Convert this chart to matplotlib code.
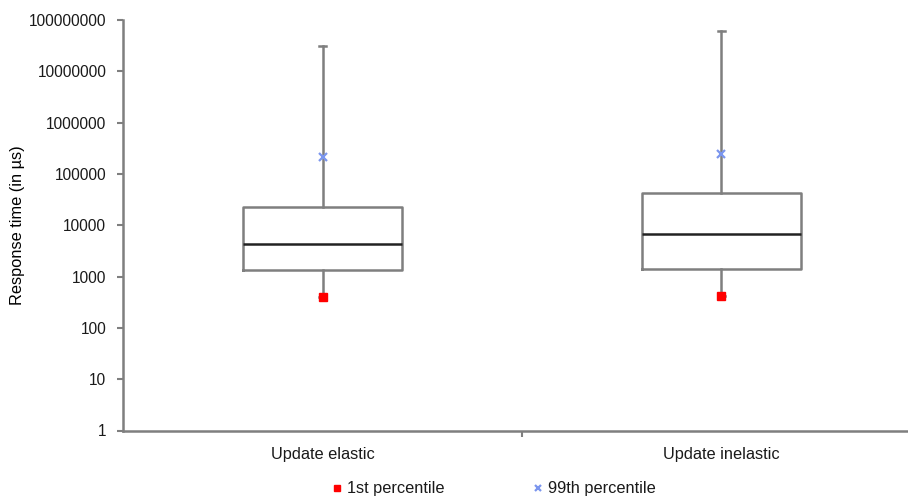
import numpy as np
import matplotlib.pyplot as plt
from matplotlib.ticker import FixedLocator, NullLocator

categories = ['Update elastic', 'Update inelastic']
p1 = [405, 415]
q1 = [1320, 1380]
median = [4320, 6800]
q3 = [22800, 42500]
p99 = [217000, 245000]
maximum = [31000000, 61000000]

plt.rcParams['font.family'] = ['Liberation Sans', 'DejaVu Sans']
plt.rcParams['font.size'] = 11.8
plt.rcParams['text.color'] = '#1a1a1a'

fig = plt.figure(figsize=(9.08, 4.96), dpi=100)
ax = fig.add_axes([123 / 908, 65.5 / 496, 798 / 908, 410.5 / 496])

pos = np.arange(len(categories)) + 0.5
stats = []
for i, c in enumerate(categories):
    stats.append(dict(label=c, whislo=p1[i], q1=q1[i], med=median[i],
                      q3=q3[i], whishi=maximum[i], fliers=[]))

grey = '#7f7f7f'
ax.bxp(stats, positions=pos, widths=0.4, capwidths=0.02, showfliers=False,
       boxprops=dict(color=grey, linewidth=1.8),
       whiskerprops=dict(color=grey, linewidth=1.8),
       capprops=dict(color=grey, linewidth=1.8),
       medianprops=dict(color='#222222', linewidth=1.8))

ax.plot(pos, p1, ls='none', marker='s', ms=5.8, color='#ff0000', label='1st percentile', zorder=5)
ax.plot(pos, p99, ls='none', marker='x', ms=5.5, mew=1.6, color='#7b96ee', label='99th percentile', zorder=5)

ax.set_yscale('log')
ax.set_ylim(1, 1e8)
ax.yaxis.set_major_locator(FixedLocator([10 ** k for k in range(9)]))
ax.yaxis.set_minor_locator(NullLocator())
ax.set_yticklabels([str(10 ** k) for k in range(9)])
ax.set_xlim(0, 2)
ax.set_xticks([1])
ax.set_xticklabels([''])
ax.set_xticks(pos, minor=True)
ax.set_xticklabels(categories, minor=True)
ax.tick_params(axis='x', which='minor', length=0, pad=12)
ax.tick_params(axis='x', which='major', length=4, width=1.5, color=grey)
ax.tick_params(axis='y', length=4, width=1.5, color=grey, pad=8, labelcolor='#1a1a1a', labelsize=11.2)
ax.tick_params(axis='x', labelcolor='#1a1a1a', which='both')
ax.set_ylabel('Response time (in µs)')
ax.yaxis.set_label_coords(-98 / 798, 0.5)

for s in ['top', 'right']:
    ax.spines[s].set_visible(False)
for s in ['left', 'bottom']:
    ax.spines[s].set_color(grey)
    ax.spines[s].set_linewidth(1.8)

fig.legend(loc='center', bbox_to_anchor=(492 / 908, 7 / 496), ncol=2, frameon=False,
           handletextpad=0.1, columnspacing=5.2, handlelength=1, markerscale=0.8)

fig.savefig('out.png', dpi=100)
